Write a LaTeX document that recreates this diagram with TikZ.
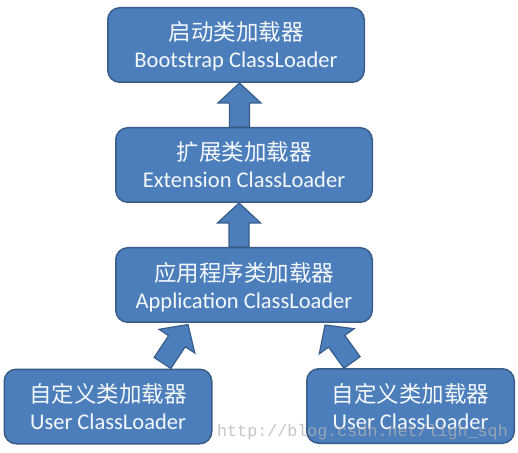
\documentclass[tikz,border=0pt]{standalone}
\usepackage{fontspec}
\setmainfont{Carlito}
\newfontfamily\cjk{Noto Sans CJK SC}
\newfontfamily\wmfont{Liberation Mono}
\usetikzlibrary{calc}
\definecolor{boxfill}{RGB}{75,126,187}
\definecolor{boxline}{RGB}{56,93,138}
\definecolor{boxtext}{RGB}{245,248,252}
\tikzset{
  loader/.style={draw=boxline, fill=boxfill, line width=1.5pt,
    rounded corners=12pt, text=boxtext, align=center, inner sep=0pt,
    text depth=0pt, font=\fontsize{22.5}{27}\selectfont},
  bigloader/.style={loader, minimum width=256.5pt, minimum height=74.5pt},
  userloader/.style={loader, minimum width=207.5pt, minimum height=74.5pt},
  blockarrow/.style={draw=boxline, fill=boxfill, line width=1.2pt,
    line join=miter,
    to path={
      let \p1=(\tikztostart), \p2=(\tikztotarget),
          \n1={atan2(\y2-\y1,\x2-\x1)},
          \n2={veclen(\x2-\x1,\y2-\y1)} in
      ([shift={(\p1)},rotate=\n1]0pt,-10pt)
      -- ([shift={(\p1)},rotate=\n1]\n2-20pt,-10pt)
      -- ([shift={(\p1)},rotate=\n1]\n2-20pt,-21.5pt)
      -- ([shift={(\p1)},rotate=\n1]\n2,0pt)
      -- ([shift={(\p1)},rotate=\n1]\n2-20pt,21.5pt)
      -- ([shift={(\p1)},rotate=\n1]\n2-20pt,10pt)
      -- ([shift={(\p1)},rotate=\n1]0pt,10pt)
      -- cycle
    }},
  watermark/.style={font=\wmfont\fontsize{16.7}{20}\selectfont,
    text=black!30, opacity=0.75, inner sep=0pt, anchor=base west}
}
\begin{document}
\begin{tikzpicture}[x=1pt,y=1pt]
  \fill[white] (0,0) rectangle (518,452);
  \useasboundingbox (0,0) rectangle (518,452);

  \node[bigloader] (boot) at (236,407) {{\cjk 启动类加载器}\\Bootstrap ClassLoader};
  \node[bigloader] (ext) at (244,287) {{\cjk 扩展类加载器}\\Extension ClassLoader};
  \node[bigloader] (app) at (244,167) {{\cjk 应用程序类加载器}\\Application ClassLoader};
  \node[userloader] (user1) at (108,45.5) {{\cjk 自定义类加载器}\\User ClassLoader};
  \node[userloader] (user2) at (410.5,46) {{\cjk 自定义类加载器}\\User ClassLoader};

  \draw[blockarrow] ([xshift=-4.5pt]ext.north) to ([xshift=-4.5pt]ext.north |- boot.south);
  \draw[blockarrow] ([xshift=-5pt]app.north) to ([xshift=-5pt]app.north |- ext.south);
  \draw[blockarrow] ([xshift=54.5pt,yshift=5.5pt]user1.north) to ([xshift=-56pt,yshift=-1.5pt]app.south);
  \draw[blockarrow] ([xshift=-58.5pt,yshift=5.5pt]user2.north) to ([xshift=81pt,yshift=-2pt]app.south);

  \node[watermark] (wm) at (217,16) {http://blog.csdn.net/ligh\_sqh};
\end{tikzpicture}
\end{document}
